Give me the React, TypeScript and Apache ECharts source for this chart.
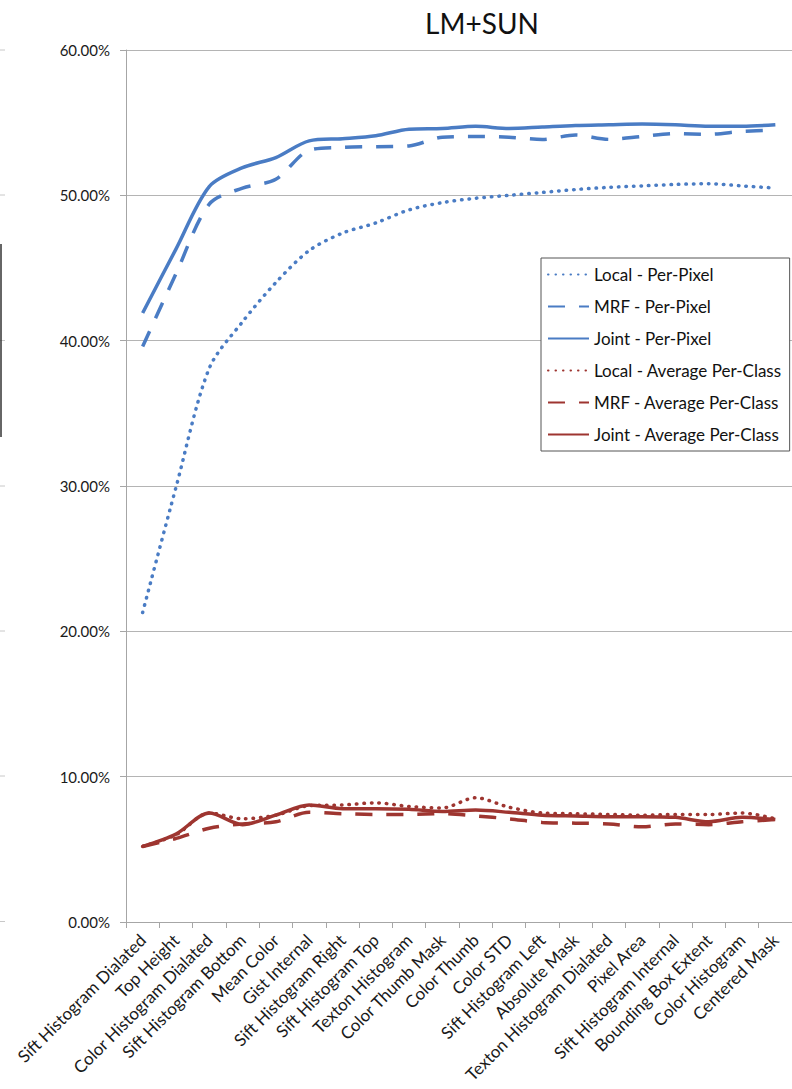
import React, { useEffect, useRef } from "react";
import * as echarts from "echarts";

// Feature names along the x axis (in the order features were added)
const categories = [
  "Sift Histogram Dialated",
  "Top Height",
  "Color Histogram Dialated",
  "Sift Histogram Bottom",
  "Mean Color",
  "Gist Internal",
  "Sift Histogram Right",
  "Sift Histogram Top",
  "Texton Histogram",
  "Color Thumb Mask",
  "Color Thumb",
  "Color STD",
  "Sift Histogram Left",
  "Absolute Mask",
  "Texton Histogram Dialated",
  "Pixel Area",
  "Sift Histogram Internal",
  "Bounding Box Extent",
  "Color Histogram",
  "Centered Mask",
];

// Accuracy in percent
const localPerPixel = [21.3, 29.9, 38.1, 41.3, 44.0, 46.2, 47.4, 48.1, 49.0, 49.5, 49.8, 50.0, 50.2, 50.4, 50.55, 50.65, 50.75, 50.8, 50.65, 50.5];
const mrfPerPixel = [39.6, 44.6, 49.4, 50.5, 51.1, 53.1, 53.3, 53.35, 53.4, 54.0, 54.05, 54.0, 53.85, 54.15, 53.85, 54.05, 54.25, 54.2, 54.4, 54.5];
const jointPerPixel = [41.9, 46.3, 50.6, 51.9, 52.6, 53.75, 53.9, 54.1, 54.55, 54.6, 54.75, 54.6, 54.7, 54.8, 54.85, 54.9, 54.85, 54.75, 54.75, 54.85];
const localAvgClass = [5.2, 6.0, 7.5, 7.1, 7.35, 8.0, 8.05, 8.2, 7.95, 7.85, 8.55, 7.9, 7.5, 7.45, 7.4, 7.35, 7.4, 7.4, 7.5, 7.1];
const mrfAvgClass = [5.2, 5.75, 6.45, 6.75, 6.9, 7.55, 7.45, 7.4, 7.4, 7.45, 7.3, 7.1, 6.85, 6.8, 6.75, 6.55, 6.75, 6.7, 6.9, 7.05];
const jointAvgClass = [5.2, 6.05, 7.5, 6.7, 7.35, 8.05, 7.8, 7.8, 7.75, 7.6, 7.7, 7.55, 7.35, 7.3, 7.25, 7.25, 7.2, 6.9, 7.2, 7.05];

const yTicks = { min: 0, max: 60, interval: 10 };

const BLUE = "#4A7CC4";
const RED = "#9E3530";
const FONT = "Lato, 'Open Sans', sans-serif";

const DOT = [0.5, 7];
const DASH = [17, 14];

function lineSeries(name: string, data: number[], color: string, dash: any) {
  return {
    name,
    type: "line",
    data,
    smooth: 0.3,
    symbol: "none",
    lineStyle: {
      color,
      width: 3.5,
      type: dash,
      cap: dash === DOT ? "round" : "butt",
    },
    itemStyle: { color },
  };
}

export default function App() {
  const ref = useRef<HTMLDivElement>(null);

  useEffect(() => {
    if (!ref.current) return;
    const chart = echarts.init(ref.current, undefined, { renderer: "svg" });

    // Faint remnants of the neighbouring panel at the left edge
    const edgeTicks = [50, 195, 340.5, 486, 631, 776, 921.5].map((y) => ({
      type: "line",
      shape: { x1: 0, y1: y, x2: 5, y2: y },
      style: { stroke: "#C8C8C8", lineWidth: 1 },
      silent: true,
    }));

    chart.setOption({
      animation: false,
      backgroundColor: "#ffffff",
      title: {
        text: "LM+SUN",
        left: 477,
        top: 4,
        textAlign: "center",
        textStyle: { fontFamily: FONT, fontSize: 28, fontWeight: "normal", color: "#111" },
      },
      grid: { left: 126, right: 0, top: 50, bottom: 167, containLabel: false },
      legend: {
        orient: "vertical",
        left: 541,
        top: 258,
        itemWidth: 41,
        itemHeight: 14,
        itemGap: 15,
        padding: [8, 8, 8, 6],
        backgroundColor: "#ffffff",
        borderColor: "#555",
        borderWidth: 1,
        itemStyle: { opacity: 0 },
        textStyle: { fontFamily: FONT, fontSize: 17, lineHeight: 16, color: "#111" },
        data: [
          "Local - Per-Pixel",
          "MRF - Per-Pixel",
          "Joint - Per-Pixel",
          "Local - Average Per-Class",
          "MRF - Average Per-Class",
          "Joint - Average Per-Class",
        ],
      },
      xAxis: {
        type: "category",
        data: categories,
        boundaryGap: true,
        axisLine: { show: true, lineStyle: { color: "#A6A6A6", width: 1 } },
        axisTick: { show: true, length: 6, lineStyle: { color: "#A6A6A6" } },
        axisLabel: {
          interval: 0,
          rotate: 45,
          margin: 15,
          fontFamily: FONT,
          fontSize: 17,
          color: "#1a1a1a",
        },
      },
      yAxis: {
        type: "value",
        min: yTicks.min,
        max: yTicks.max,
        interval: yTicks.interval,
        axisLine: { show: true, lineStyle: { color: "#A6A6A6", width: 1 } },
        axisTick: { show: true, length: 6, lineStyle: { color: "#A6A6A6" } },
        splitLine: { show: true, lineStyle: { color: "#B4B4B4", width: 1 } },
        axisLabel: {
          margin: 16,
          fontFamily: FONT,
          fontSize: 15,
          color: "#1a1a1a",
          formatter: (v: number) => v.toFixed(2) + "%",
        },
      },
      series: [
        lineSeries("Local - Per-Pixel", localPerPixel, BLUE, DOT),
        lineSeries("MRF - Per-Pixel", mrfPerPixel, BLUE, DASH),
        lineSeries("Joint - Per-Pixel", jointPerPixel, BLUE, "solid"),
        lineSeries("Local - Average Per-Class", localAvgClass, RED, DOT),
        lineSeries("MRF - Average Per-Class", mrfAvgClass, RED, DASH),
        lineSeries("Joint - Average Per-Class", jointAvgClass, RED, "solid"),
      ],
      graphic: [
        ...edgeTicks,
        {
          type: "line",
          shape: { x1: 1, y1: 244, x2: 1, y2: 437 },
          style: { stroke: "#333", lineWidth: 1.5 },
          silent: true,
        },
      ],
    });

    return () => chart.dispose();
  }, []);

  return (
    <div
      ref={ref}
      style={{ position: "absolute", left: 0, top: 0, width: 792, height: 1089 }}
    />
  );
}
